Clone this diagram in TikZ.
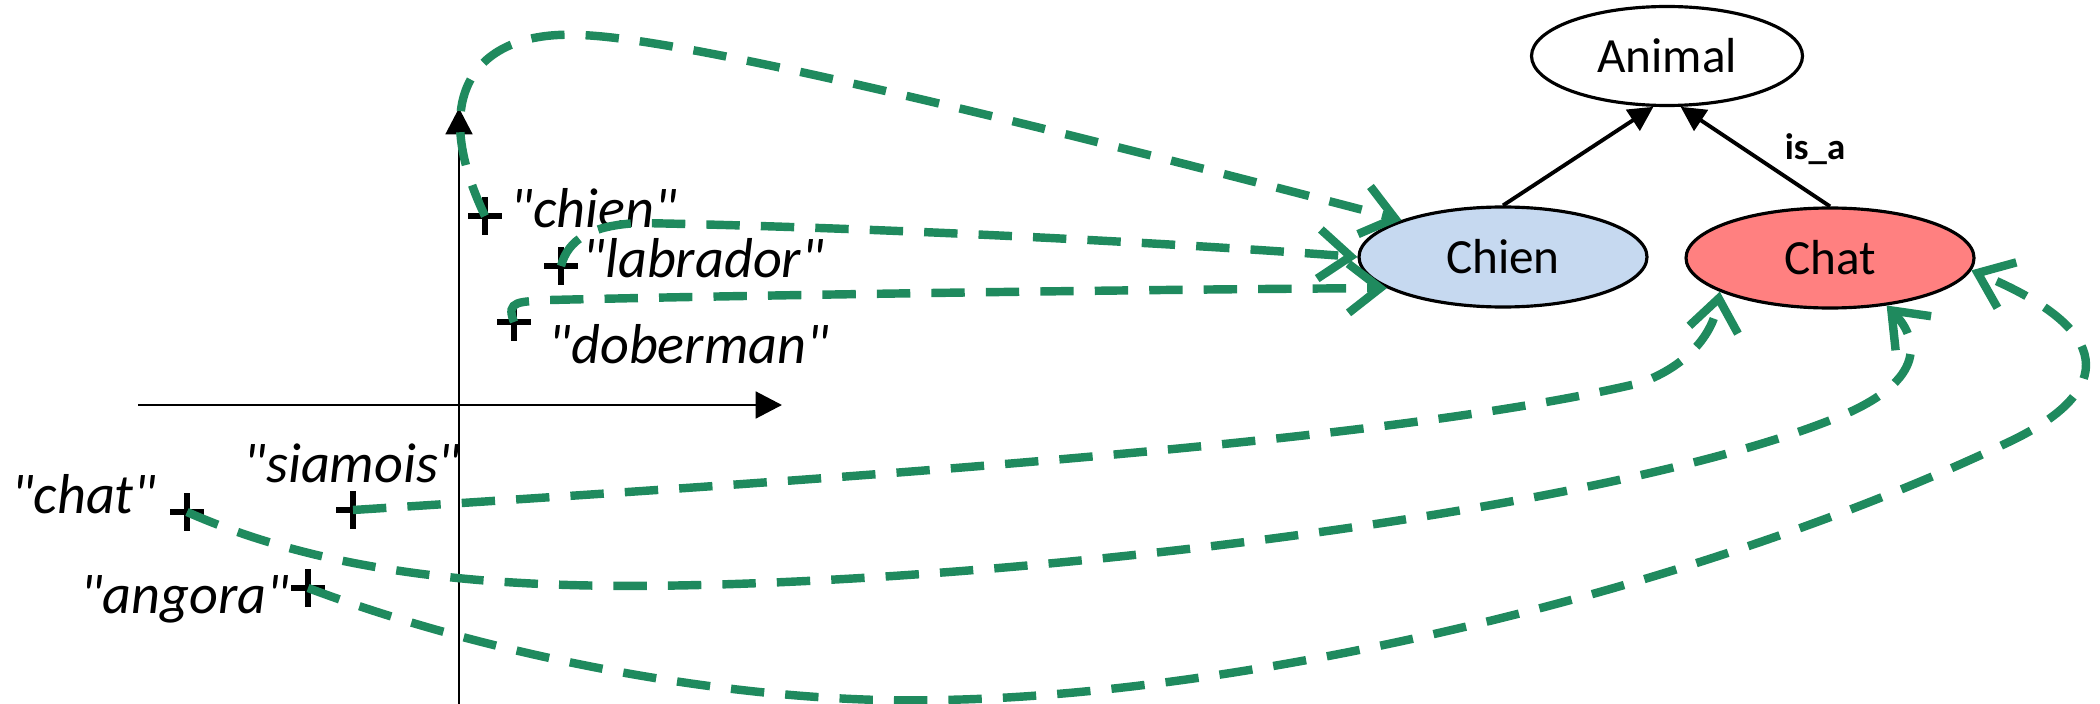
\documentclass[tikz,border=0pt]{standalone}
\usepackage{fontspec}
\setmainfont{Carlito}[Ligatures=TeXOff]
\usetikzlibrary{arrows.meta,shapes.geometric}
\definecolor{lnkgreen}{RGB}{31,138,94}
\definecolor{chienblue}{RGB}{198,217,240}
\definecolor{chatred}{RGB}{255,128,128}
\begin{document}
\begin{tikzpicture}[x=0.1mm,y=-0.1mm,
  concept/.style={draw=black, line width=0.9pt, ellipse, minimum width=28.8mm, minimum height=10mm, inner sep=0pt, font=\fontsize{14}{16}\selectfont},
  word/.style={font=\itshape\fontsize{16}{18}\selectfont, inner sep=0pt},
  crossline/.style={line width=1.7pt},
  link/.style={draw=lnkgreen, line width=2.4pt, dash pattern=on 9.5pt off 6pt, -{Straight Barb[length=9pt,width=14pt]}},
  isa/.style={line width=1.1pt, -{Triangle[length=7pt,width=7pt]}},
  axisline/.style={line width=0.8pt, -{Triangle[length=7.5pt,width=7.6pt]}}
]
\useasboundingbox (0,0) rectangle (2100,704);
% concepts
\node[concept, minimum width=27.1mm, minimum height=9.9mm] (animal) at (1667,56) {Animal};
\node[concept, fill=chienblue] (chien) at (1503,257) {Chien};
\node[concept, fill=chatred] (chat) at (1830,258) {Chat};
\node[font=\bfseries\fontsize{10.5}{12}\selectfont] (isa) at (1815,149) {is\_a};
\draw[isa] (chien.north) -- (animal.-105);
\draw[isa] (chat.north) -- (animal.-75);
% axes
\coordinate (yb) at (459,704);
\coordinate (yt) at (459,108);
\coordinate (xl) at (138,405);
\coordinate (xr) at (782,405);
\draw[axisline] (yb) -- (yt);
\draw[axisline] (xl) -- (xr);
% points
\coordinate (pchien) at (485,216);
\coordinate (plab) at (561,266);
\coordinate (pdob) at (514,322);
\coordinate (psia) at (353,510);
\coordinate (pchat) at (187,512);
\coordinate (pang) at (308,588);
\foreach \c in {pchien,plab,pdob,psia,pchat,pang}
  \draw[crossline] (\c) +(-17,0) -- +(17,0) +(0,-19) -- +(0,19);
% labels
\node[word, anchor=base west] (lchien) at (510,227) {"chien"};
\node[word, anchor=base west] (llab) at (582,277) {"labrador"};
\node[word, anchor=base west] (ldob) at (548,363) {"doberman"};
\node[word, anchor=base west] (lsia) at (243,482) {"siamois"};
\node[word, anchor=base east] (lchat) at (157,513) {"chat"};
\node[word, anchor=base east] (lang) at (290,613) {"angora"};
% links
\draw[link] (pchien) .. controls (425,90) and (480,30) .. (580,35) .. controls (680,38) and (1000,115) .. (chien.160);
\draw[link] (plab) .. controls (568,240) and (590,225) .. (640,223) .. controls (900,228) and (1200,245) .. (chien.west);
\draw[link] (pdob) .. controls (505,300) and (520,302) .. (550,300) .. controls (800,294) and (1200,289) .. (chien.195);
\draw[link] (psia) .. controls (900,475) and (1400,440) .. (1640,383) .. controls (1680,369) and (1712,340) .. (chat.197);
\draw[link] (pchat) .. controls (330,575) and (500,590) .. (700,585) .. controls (1100,575) and (1650,500) .. (1850,412) .. controls (1930,375) and (1915,335) .. (chat.-40);
\draw[link] (pang) .. controls (500,660) and (750,705) .. (940,700) .. controls (1250,695) and (1700,590) .. (2013,440) .. controls (2115,390) and (2115,330) .. (chat.-5);
\end{tikzpicture}
\end{document}
